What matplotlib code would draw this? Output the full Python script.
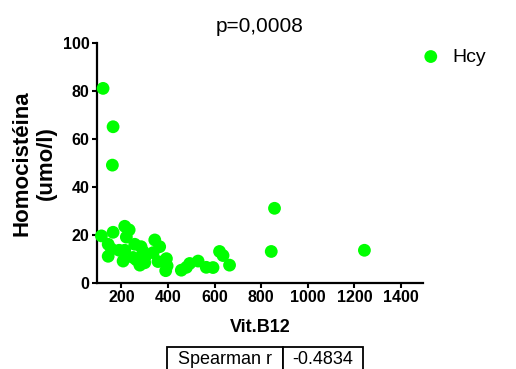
import matplotlib
matplotlib.use("Agg")
import matplotlib.pyplot as plt

plt.rcParams['font.family'] = ['Liberation Sans', 'DejaVu Sans']

# Vit.B12 vs homocysteine values
vitb12 = [121, 164, 161, 114, 164, 143, 143, 157, 190, 207, 214, 233, 221, 214,
          257, 284, 293, 250, 264, 279, 300, 303, 343, 364, 336, 357, 393, 396,
          390, 457, 479, 493, 529, 564, 593, 621, 636, 664, 843, 857, 1243]
hcy = [81, 65, 49, 19.5, 21, 16, 11, 14, 13.5, 9, 23.5, 22, 19, 13.5,
       16, 15, 13, 10.5, 9.5, 7.3, 8.3, 11, 17.8, 15, 12.5, 8.8, 10, 7,
       5, 5.2, 6.4, 8, 9, 6.4, 6.3, 13, 11.3, 7.3, 13, 31, 13.5]

title = "p=0,0008"
series_name = "Hcy"
table_cells = [["Spearman r", "-0.4834"]]
xticks = [200, 400, 600, 800, 1000, 1200, 1400]
yticks = [0, 20, 40, 60, 80, 100]

green = "#00ff00"

fig = plt.figure(figsize=(5.16, 3.69), dpi=100)
ax = fig.add_axes([0.188, 0.234, 0.632, 0.650])

ax.scatter(vitb12, hcy, s=85, color=green, edgecolors='none', label=series_name,
           clip_on=False, zorder=3)

ax.set_xlim(95, 1495)
ax.set_ylim(0, 100)
ax.set_xticks(xticks)
ax.set_yticks(yticks)
for s in ['top', 'right']:
    ax.spines[s].set_visible(False)
for s in ['left', 'bottom']:
    ax.spines[s].set_linewidth(1.6)
ax.tick_params(direction='out', length=3.5, width=1.5, labelsize=11.5, pad=2)
for lab in ax.get_xticklabels() + ax.get_yticklabels():
    lab.set_fontweight('bold')

ax.set_xlabel("Vit.B12", fontsize=13, fontweight='bold', labelpad=10)
ax.set_ylabel("Homocistéina\n(umo/l)", fontsize=16, fontweight='bold',
              labelpad=4, linespacing=1.2)
ax.set_title(title, fontsize=15, pad=8)

ax.legend(frameon=False, loc='center left', bbox_to_anchor=(0.816, 0.846),
          bbox_transform=fig.transFigure, handlelength=1.0, handletextpad=0.6,
          borderpad=0, borderaxespad=0, fontsize=14, markerscale=1.0)

tab = ax.table(cellText=table_cells, colWidths=[0.357, 0.245], cellLoc='center',
               bbox=[0.214, -0.375, 0.602, 0.106])
tab.auto_set_font_size(False)
for cell in tab.get_celld().values():
    cell.set_fontsize(13)
    cell.set_linewidth(1.3)

fig.savefig("out.png", dpi=100)
